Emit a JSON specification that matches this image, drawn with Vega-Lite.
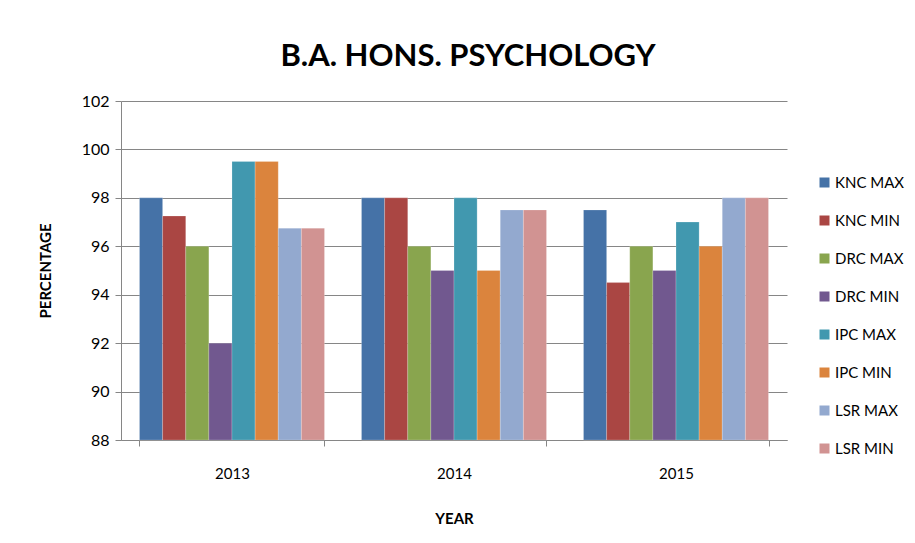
{
  "$schema": "https://vega.github.io/schema/vega-lite/v6.json",
  "width": 666,
  "height": 339,
  "autosize": "none",
  "padding": {"left": 121, "top": 101, "right": 128, "bottom": 103},
  "background": "white",
  "title": {
    "text": "B.A. HONS.  PSYCHOLOGY",
    "font": "Lato",
    "fontSize": 31,
    "fontWeight": "bold",
    "color": "#000000",
    "anchor": "middle",
    "dx": 14,
    "offset": 20
  },
  "data": {
    "values": [
      {"year": "2013", "series": "KNC MAX", "value": 98},
      {"year": "2013", "series": "KNC MIN", "value": 97.25},
      {"year": "2013", "series": "DRC MAX", "value": 96},
      {"year": "2013", "series": "DRC MIN", "value": 92},
      {"year": "2013", "series": "IPC MAX", "value": 99.5},
      {"year": "2013", "series": "IPC MIN", "value": 99.5},
      {"year": "2013", "series": "LSR MAX", "value": 96.75},
      {"year": "2013", "series": "LSR MIN", "value": 96.75},
      {"year": "2014", "series": "KNC MAX", "value": 98},
      {"year": "2014", "series": "KNC MIN", "value": 98},
      {"year": "2014", "series": "DRC MAX", "value": 96},
      {"year": "2014", "series": "DRC MIN", "value": 95},
      {"year": "2014", "series": "IPC MAX", "value": 98},
      {"year": "2014", "series": "IPC MIN", "value": 95},
      {"year": "2014", "series": "LSR MAX", "value": 97.5},
      {"year": "2014", "series": "LSR MIN", "value": 97.5},
      {"year": "2015", "series": "KNC MAX", "value": 97.5},
      {"year": "2015", "series": "KNC MIN", "value": 94.5},
      {"year": "2015", "series": "DRC MAX", "value": 96},
      {"year": "2015", "series": "DRC MIN", "value": 95},
      {"year": "2015", "series": "IPC MAX", "value": 97},
      {"year": "2015", "series": "IPC MIN", "value": 96},
      {"year": "2015", "series": "LSR MAX", "value": 98},
      {"year": "2015", "series": "LSR MIN", "value": 98}
    ]
  },
  "mark": {"type": "bar", "stroke": "white", "strokeOpacity": 0.4, "strokeWidth": 0.5},
  "encoding": {
    "x": {
      "field": "year",
      "type": "nominal",
      "scale": {"paddingInner": 0.1667, "paddingOuter": 0.0833},
      "axis": {
        "title": "YEAR",
        "titleFont": "Lato",
        "titleFontSize": 15,
        "titleFontWeight": "bold",
        "titleColor": "#000000",
        "titlePadding": 30,
        "labelFont": "Lato",
        "labelFontSize": 15,
        "labelColor": "#000000",
        "labelAngle": 0,
        "labelPadding": 20,
        "domainColor": "#868686",
        "tickColor": "#868686",
        "tickBand": "extent",
        "tickSize": 6
      }
    },
    "xOffset": {
      "field": "series",
      "type": "nominal",
      "sort": ["KNC MAX", "KNC MIN", "DRC MAX", "DRC MIN", "IPC MAX", "IPC MIN", "LSR MAX", "LSR MIN"],
      "scale": {"paddingInner": 0, "paddingOuter": 0}
    },
    "y": {
      "field": "value",
      "type": "quantitative",
      "scale": {"domain": [88, 102], "zero": false, "nice": false},
      "axis": {
        "title": "PERCENTAGE",
        "titleFont": "Lato",
        "titleFontSize": 15,
        "titleFontWeight": "bold",
        "titleColor": "#000000",
        "titlePadding": 28,
        "values": [88, 90, 92, 94, 96, 98, 100, 102],
        "labelFont": "Lato",
        "labelFontSize": 16,
        "labelColor": "#000000",
        "labelPadding": 6,
        "domainColor": "#868686",
        "tickColor": "#868686",
        "tickSize": 6,
        "gridColor": "#868686",
        "gridWidth": 1
      }
    },
    "y2": {"datum": 88},
    "color": {
      "field": "series",
      "type": "nominal",
      "sort": ["KNC MAX", "KNC MIN", "DRC MAX", "DRC MIN", "IPC MAX", "IPC MIN", "LSR MAX", "LSR MIN"],
      "scale": {
        "domain": ["KNC MAX", "KNC MIN", "DRC MAX", "DRC MIN", "IPC MAX", "IPC MIN", "LSR MAX", "LSR MIN"],
        "range": ["#4572A7", "#AA4643", "#89A54E", "#71588F", "#4198AF", "#DB843D", "#93A9CF", "#D19392"]
      },
      "legend": {
        "title": null,
        "orient": "none",
        "legendX": 696,
        "legendY": 74,
        "symbolType": "square",
        "symbolSize": 100,
        "symbolStrokeWidth": 0,
        "labelFont": "Lato",
        "labelFontSize": 15,
        "labelColor": "#000000",
        "labelOffset": 3,
        "rowPadding": 22,
        "labelLimit": 200
      }
    }
  },
  "config": {
    "view": {"stroke": null}
  }
}
